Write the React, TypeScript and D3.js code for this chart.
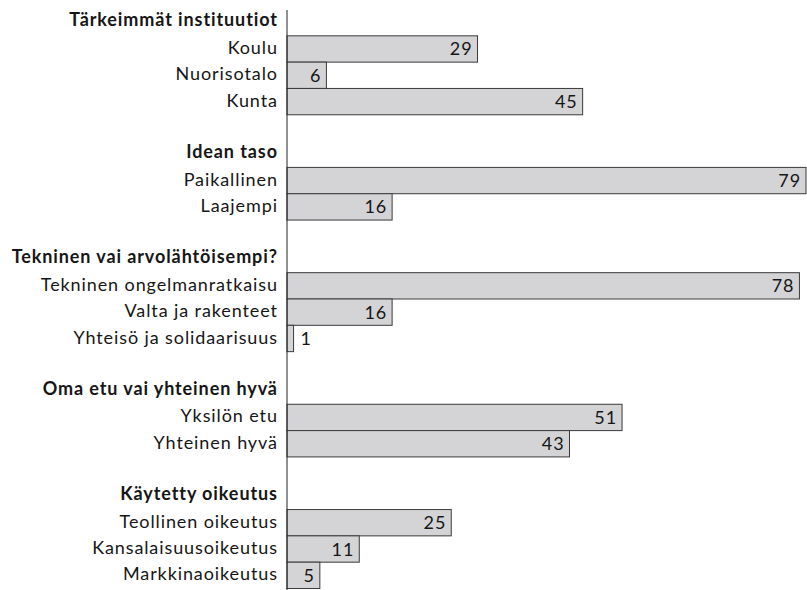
import { useMemo } from "react";
import * as d3 from "d3";

const WIDTH = 807;
const HEIGHT = 590;
const AXIS_X = 287;
const LABEL_X = 277;
const FONT = "Lato, sans-serif";
const FONT_SIZE = 18;
const SPACING = 0.9;

// groups and their rows
const groupTitles = [
  "Tärkeimmät instituutiot",
  "Idean taso",
  "Tekninen vai arvolähtöisempi?",
  "Oma etu vai yhteinen hyvä",
  "Käytetty oikeutus",
];
const groupLabels = [
  ["Koulu", "Nuorisotalo", "Kunta"],
  ["Paikallinen", "Laajempi"],
  ["Tekninen ongelmanratkaisu", "Valta ja rakenteet", "Yhteisö ja solidaarisuus"],
  ["Yksilön etu", "Yhteinen hyvä"],
  ["Teollinen oikeutus", "Kansalaisuusoikeutus", "Markkinaoikeutus"],
];
const groupValues = [
  [29, 6, 45],
  [79, 16],
  [78, 16, 1],
  [51, 43],
  [25, 11, 5],
];

type Row = { key: string; label: string; header: boolean; value?: number };

export default function App() {
  const rows = useMemo(() => {
    const out: Row[] = [];
    groupTitles.forEach((t, g) => {
      if (g > 0) out.push({ key: `gap${g}`, label: "", header: false });
      out.push({ key: `h${g}`, label: t, header: true });
      groupLabels[g].forEach((l, i) =>
        out.push({ key: `r${g}-${i}`, label: l, header: false, value: groupValues[g][i] })
      );
    });
    return out;
  }, []);

  const y = d3
    .scaleBand()
    .domain(rows.map((r) => r.key))
    .range([9.5, 588.5])
    .padding(0);

  const x = d3.scaleLinear().domain([0, 79]).range([AXIS_X, 806]);

  return (
    <svg
      width={WIDTH}
      height={HEIGHT}
      style={{ position: "absolute", left: 0, top: 0, background: "#fff" }}
      fontFamily={FONT}
    >
      {rows.map((r) => {
        const cy = (y(r.key) ?? 0) + y.bandwidth() / 2;
        return (
          <g key={r.key}>
            {r.label && (
              <text
                x={LABEL_X + SPACING}
                y={cy}
                dy={r.header ? "0.2em" : "0.28em"}
                textAnchor="end"
                fontSize={FONT_SIZE}
                letterSpacing={SPACING}
                fontWeight={r.header ? 700 : 400}
                fill="#161616"
              >
                {r.label}
              </text>
            )}
            {r.value !== undefined && (
              <>
                <rect
                  x={x(0)}
                  y={y(r.key)}
                  width={x(r.value) - x(0)}
                  height={y.bandwidth()}
                  fill="#d4d4d6"
                  stroke="#3a3a3a"
                  strokeWidth={1}
                />
                <text
                  x={r.value < 3 ? x(r.value) + 7 : x(r.value) - 5}
                  y={cy}
                  dy="0.36em"
                  textAnchor={r.value < 3 ? "start" : "end"}
                  fontSize={FONT_SIZE}
                  letterSpacing={SPACING}
                  fill="#161616"
                >
                  {r.value}
                </text>
              </>
            )}
          </g>
        );
      })}
      <line x1={AXIS_X} x2={AXIS_X} y1={10} y2={HEIGHT} stroke="#222" strokeWidth={1} />
    </svg>
  );
}
